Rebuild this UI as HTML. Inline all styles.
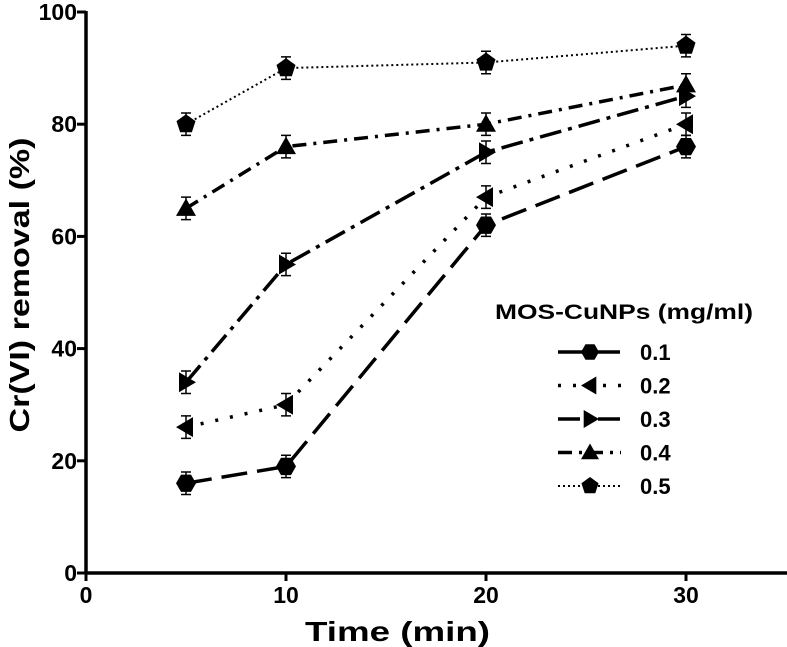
<!DOCTYPE html>
<html><head><meta charset="utf-8"><style>
body{margin:0;background:#fff;}
svg{display:block;font-family:"Liberation Sans",Arial,sans-serif;font-weight:bold;}
</style></head><body>
<svg id="chart" width="787" height="647" viewBox="0 0 787 647">
<g id="axes"></g>
<g id="series"></g>
<g id="legend"></g>
</svg>
<script>
const times=[5,10,20,30];
const s01=[16,19,62,76];
const s02=[26,30,67,80];
const s03=[34,55,75,85];
const s04=[65,76,80,87];
const s05=[80,90,91,94];
const seriesLabels=['0.1','0.2','0.3','0.4','0.5'];
const xTicks=[0,10,20,30];
const yTicks=[0,20,40,60,80,100];
const NS='http://www.w3.org/2000/svg';
const X=v=>86+v*20;
const Y=v=>573-v*5.61;
function mk(tag,attrs,parent){const e=document.createElementNS(NS,tag);for(const k in attrs)e.setAttribute(k,attrs[k]);parent.appendChild(e);return e;}
const axes=document.getElementById('axes');
let l=mk('line',{x1:X(0),y1:Y(0),x2:787,y2:Y(0),stroke:'#000','stroke-width':3.5},axes);


l=mk('line',{x1:X(0),y1:Y(0)+1.5,x2:X(0),y2:Y(100)-1,stroke:'#000','stroke-width':3.5},axes);


xTicks.forEach(t=>{
 let tk=mk('line',{x1:X(t),y1:Y(0),x2:X(t),y2:Y(0)+8,stroke:'#000','stroke-width':3},axes);
 
 
 let tx=mk('text',{x:X(t),y:Y(0)+30,'text-anchor':'middle','font-size':23},axes);tx.textContent=t;
 
 
});
yTicks.forEach(t=>{
 let tk=mk('line',{x1:X(0)-9,y1:Y(t),x2:X(0),y2:Y(t),stroke:'#000','stroke-width':3},axes);
 
 
 let tx=mk('text',{x:X(0)-9,y:Y(t)+8,'text-anchor':'end','font-size':23},axes);tx.textContent=t;
 
 
});
let xt=mk('text',{x:305,y:641,'font-size':28,textLength:185,lengthAdjust:'spacingAndGlyphs'},axes);xt.textContent='Time (min)';


let yt=mk('text',{x:0,y:0,'text-anchor':'middle','font-size':28,textLength:295,lengthAdjust:'spacingAndGlyphs',transform:'translate(29,285) rotate(-90)'},axes);yt.textContent='Cr(VI) removal (%)';



const dashes=['26 10','3 12','22 7 4 7','14 7 3 7','2 3'];
const widths=[3.5,3.5,3.5,3.5,2];
function marker(i,cx,cy,parent,r){
 r=r||10;let e;
 if(i===0){let p=[];for(let k=0;k<6;k++){const a=Math.PI/3*k;p.push((cx+r*Math.cos(a))+','+(cy+r*Math.sin(a)));}e=mk('polygon',{points:p.join(' '),fill:'#000'},parent);}
 else if(i===1){e=mk('polygon',{points:`${cx-r},${cy} ${cx+r*0.7},${cy-r} ${cx+r*0.7},${cy+r}`,fill:'#000'},parent);}
 else if(i===2){e=mk('polygon',{points:`${cx+r},${cy} ${cx-r*0.7},${cy-r} ${cx-r*0.7},${cy+r}`,fill:'#000'},parent);}
 else if(i===3){e=mk('polygon',{points:`${cx},${cy-r} ${cx+r},${cy+r*0.75} ${cx-r},${cy+r*0.75}`,fill:'#000'},parent);}
 else {let p=[];for(let k=0;k<5;k++){const a=-Math.PI/2+2*Math.PI/5*k;p.push((cx+r*Math.cos(a))+','+(cy+r*Math.sin(a)));}e=mk('polygon',{points:p.join(' '),fill:'#000'},parent);}
 return e;
}
const all=[s01,s02,s03,s04,s05];
const sg=document.getElementById('series');
all.forEach((vals,i)=>{
 const g=mk('g',{},sg);
 
 
 const pl=mk('polyline',{points:vals.map((v,j)=>X(times[j])+','+Y(v)).join(' '),fill:'none',stroke:'#000','stroke-width':widths[i],'stroke-dasharray':dashes[i]},g);
 
 
 vals.forEach((v,j)=>{
  const eb=mk('path',{d:`M${X(times[j])} ${Y(v+2)}V${Y(v-2)}M${X(times[j])-5} ${Y(v+2)}h10M${X(times[j])-5} ${Y(v-2)}h10`,stroke:'#000','stroke-width':1.5,fill:'none'},g);
  
  
  const m=marker(i,X(times[j]),Y(v),g);
  
  
 });
});
const lg=document.getElementById('legend');
let lt=mk('text',{x:495,y:319,'font-size':21,textLength:258,lengthAdjust:'spacingAndGlyphs'},lg);lt.textContent='MOS-CuNPs (mg/ml)';


seriesLabels.forEach((s,i)=>{
 const y=352+i*33.5;
 const g=mk('g',{},lg);
 
 
 mk('line',{x1:558,y1:y,x2:621,y2:y,stroke:'#000','stroke-width':widths[i],'stroke-dasharray':dashes[i]},g);
 marker(i,590,y,g,9);
 const t=mk('text',{x:640,y:y+8,'font-size':22},g);t.textContent=s;
});
</script>
</body></html>
